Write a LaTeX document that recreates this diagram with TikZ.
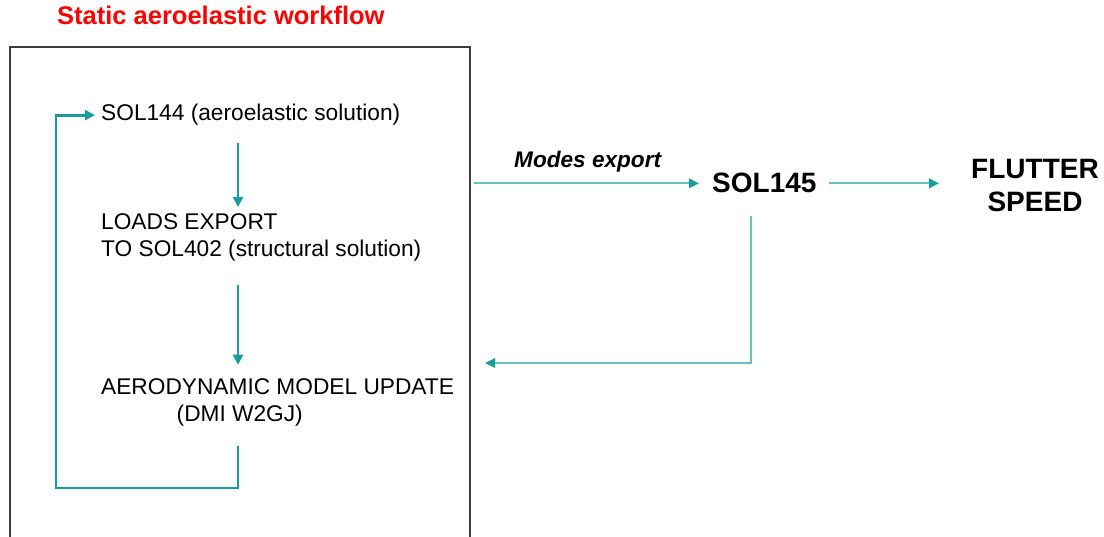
\documentclass[tikz,border=0pt]{standalone}
\usepackage{fontspec}
\setmainfont{Liberation Sans}
\usepackage{tikz}
\usetikzlibrary{positioning}
\usetikzlibrary{calc}
\usetikzlibrary{arrows.meta}
\definecolor{loopteal}{HTML}{199C9C}
\definecolor{flowteal}{HTML}{62C3C3}
\definecolor{titlered}{HTML}{FF0000}
\definecolor{framegray}{HTML}{3C3C3C}

\begin{document}
\begin{tikzpicture}[x=1pt, y=-1pt,
	txt/.style={inner sep=0pt, anchor=base west, align=left, font=\fontsize{22.7}{26.7}\selectfont},
	bigtxt/.style={inner sep=0pt, align=center, font=\bfseries\fontsize{28}{33.5}\selectfont},
	loopflow/.style={loopteal, line width=2.9pt, -{Triangle[length=10pt,width=10pt]}},
	flow/.style={flowteal, line width=1.8pt, -{Triangle[length=10pt,width=9.5pt,color=loopteal]}}]
	\useasboundingbox (0,0) rectangle (1104,537);

	\node[anchor=base west, inner sep=0pt, text=titlered, font=\bfseries\fontsize{25.5}{30}\selectfont] at (57,25) (title) {Static aeroelastic workflow};
	\coordinate (frameNE) at (470,47);
	\draw[framegray, line width=1.5pt] (10,545) |- (frameNE) -- (470,545);

	\node[txt] at (101,121) (sol144) {SOL144 (aeroelastic solution)};
	\node[txt] at (101,256.7) (loads) {LOADS EXPORT\\TO SOL402 (structural solution)};
	\node[txt] at (101,421) (aero) {AERODYNAMIC MODEL UPDATE\\\hspace*{75.5pt}(DMI W2GJ)};

	\coordinate (loopcol) at (238,0);
	\coordinate (loopbot) at (56,488);
	\draw[loopflow, shorten <=17pt, shorten >=7pt] (sol144.south -| loopcol) -- (loads.north -| loopcol);
	\draw[loopflow, shorten <=23.5pt, shorten >=13.5pt] (loads.south -| loopcol) -- (aero.north -| loopcol);
	\draw[loopflow, shorten >=6pt] ($(aero.south -| loopcol)+(0,20)$) -- (loopcol |- loopbot) -- (loopbot) |- (sol144.west);

	\node[bigtxt, anchor=base west] at (712,193) (sol145) {SOL145};
	\node[bigtxt, anchor=base] at (1035,211.7) (flutter) {FLUTTER\\SPEED};
	\node[anchor=base west, inner sep=0pt, font=\bfseries\itshape\fontsize{22.6}{26}\selectfont] at (514,168) (modes) {Modes export};

	\draw[flow, shorten <=4pt, shorten >=13pt] (frameNE |- sol145.west) -- (sol145.west);
	\draw[flow, shorten <=12pt, shorten >=32pt] (sol145.east) -- (sol145.east -| flutter.west);
	\coordinate (backturn) at (751,363);
	\draw[flow, shorten >=15pt] ($(sol145.south -| backturn)+(0,23)$) -- (backturn) -- (backturn -| frameNE);
\end{tikzpicture}
\end{document}
